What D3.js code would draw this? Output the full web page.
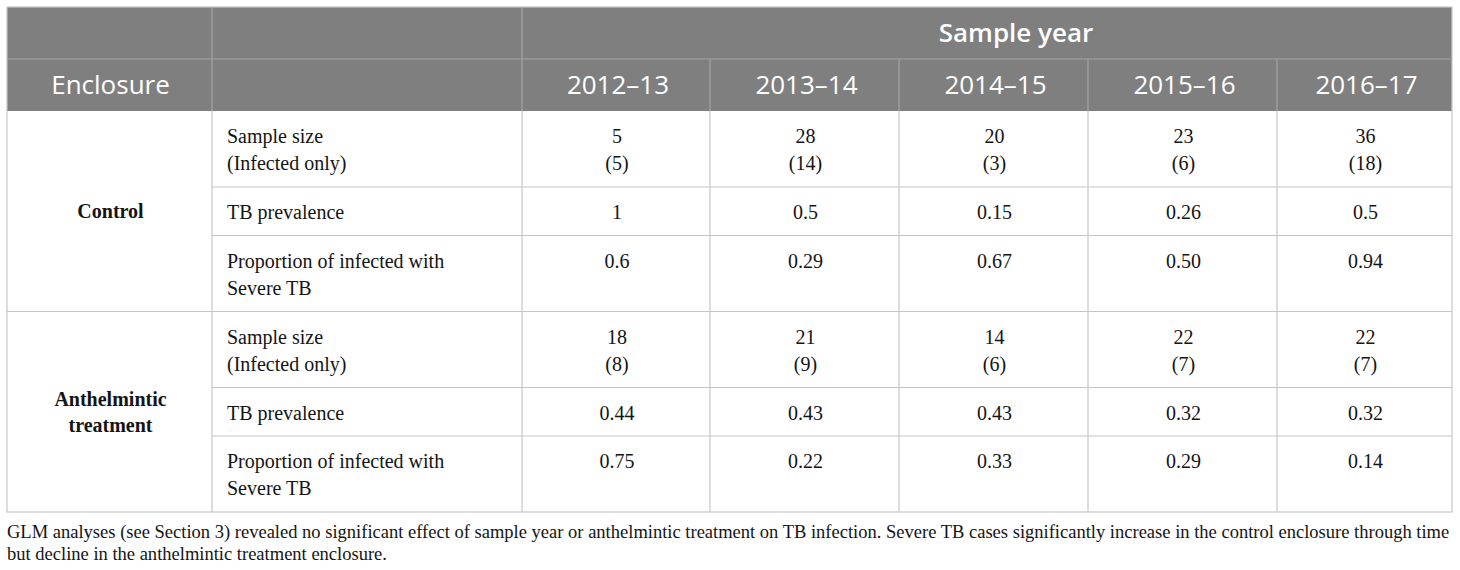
<!DOCTYPE html>
<html>
<head>
<meta charset="utf-8">
<script src="https://cdn.jsdelivr.net/npm/d3@7"></script>
<style>
  html, body { margin: 0; padding: 0; background: #ffffff; }
  svg { display: block; }
</style>
</head>
<body>
<svg id="chart" width="1460" height="570"></svg>
<script>
// ---------- data ----------
const years = ["2012–13", "2013–14", "2014–15", "2015–16", "2016–17"];
const spanHeader = "Sample year";
const firstHeader = "Enclosure";
const enclosures = [["Control"], ["Anthelmintic", "treatment"]];
const measures = [["Sample size", "(Infected only)"], ["TB prevalence"], ["Proportion of infected with", "Severe TB"]];

const controlSampleSize = [5, 28, 20, 23, 36];
const controlInfected   = [5, 14, 3, 6, 18];
const controlPrevalence = ["1", "0.5", "0.15", "0.26", "0.5"];
const controlSevere     = ["0.6", "0.29", "0.67", "0.50", "0.94"];

const anthSampleSize = [18, 21, 14, 22, 22];
const anthInfected   = [8, 9, 6, 7, 7];
const anthPrevalence = ["0.44", "0.43", "0.43", "0.32", "0.32"];
const anthSevere     = ["0.75", "0.22", "0.33", "0.29", "0.14"];

const footnote = [
  "GLM analyses (see Section 3) revealed no significant effect of sample year or anthelmintic treatment on TB infection. Severe TB cases significantly increase in the control enclosure through time",
  "but decline in the anthelmintic treatment enclosure."
];

// ---------- build table model ----------
const groups = [
  { name: enclosures[0], rows: [
      years.map((y, i) => [String(controlSampleSize[i]), "(" + controlInfected[i] + ")"]),
      years.map((y, i) => [controlPrevalence[i]]),
      years.map((y, i) => [controlSevere[i]])
  ]},
  { name: enclosures[1], rows: [
      years.map((y, i) => [String(anthSampleSize[i]), "(" + anthInfected[i] + ")"]),
      years.map((y, i) => [anthPrevalence[i]]),
      years.map((y, i) => [anthSevere[i]])
  ]}
];

// ---------- layout ----------
const L = 7, R = 1452, T = 7;
const encRight = 212, measRight = 522;
const headRow1 = 52, headRow2 = 52;
const rowHeights = [76, 48.5, 76];
const lineH = 27;
const firstBase = 32;

const yearEdges = [measRight, 710, 899, 1088, 1277, R];
const xYear = d3.scaleOrdinal().domain(years).range(years.map((y, i) => (yearEdges[i] + yearEdges[i + 1]) / 2 + 1));

const headerBottom = T + headRow1 + headRow2;
const groupH = d3.sum(rowHeights);
const yGroup = d3.scaleLinear().domain([0, 1]).range([headerBottom, headerBottom + groupH]);

const svg = d3.select("#chart");
const serif = "'Liberation Serif', 'Times New Roman', serif";
const sans = "'Open Sans', 'Noto Sans', sans-serif";
const gridColor = "#c6c6c6";
const headColor = "#7f7f7f";
const headLine = "#a3a3a3";
const textColor = "#141414";

// header background
svg.append("rect").attr("x", L).attr("y", T).attr("width", R - L).attr("height", headRow1 + headRow2).attr("fill", headColor);

// body grid lines
const gLines = svg.append("g").attr("stroke", gridColor).attr("stroke-width", 1.2).attr("fill", "none");
const tableBottom = yGroup(groups.length);

groups.forEach((g, gi) => {
  const y0 = yGroup(gi);
  let acc = y0;
  rowHeights.forEach((h, ri) => {
    if (ri > 0) gLines.append("line").attr("x1", encRight).attr("x2", R).attr("y1", acc).attr("y2", acc);
    acc += h;
  });
  if (gi > 0) gLines.append("line").attr("x1", L).attr("x2", R).attr("y1", y0).attr("y2", y0);
});
[encRight].concat(yearEdges.slice(0, -1)).forEach(x => {
  gLines.append("line").attr("x1", x).attr("x2", x).attr("y1", headerBottom).attr("y2", tableBottom);
});
gLines.append("rect").attr("x", L).attr("y", T).attr("width", R - L).attr("height", tableBottom - T);

// header lines
const hLines = svg.append("g").attr("stroke", headLine).attr("stroke-width", 1.2);
hLines.append("line").attr("x1", L).attr("x2", R).attr("y1", T + headRow1).attr("y2", T + headRow1);
[encRight, measRight].forEach(x => hLines.append("line").attr("x1", x).attr("x2", x).attr("y1", T).attr("y2", headerBottom));
yearEdges.slice(1, -1).forEach(x => hLines.append("line").attr("x1", x).attr("x2", x).attr("y1", T + headRow1).attr("y2", headerBottom));

// header text
const hText = svg.append("g").attr("fill", "#ffffff").attr("font-family", sans).attr("text-anchor", "middle");
hText.append("text").attr("x", 1016).attr("y", 41.5).attr("font-size", 26).attr("font-weight", 600).text(spanHeader);
hText.append("text").attr("x", (L + encRight) / 2 + 1).attr("y", 94).attr("font-size", 26).attr("font-weight", 500).text(firstHeader);
hText.selectAll("text.yr").data(years).join("text").attr("class", "yr")
  .attr("x", d => xYear(d) + 1).attr("y", 94).attr("font-size", 26).attr("font-weight", 500).text(d => d);

// body text
const body = svg.append("g").attr("fill", textColor).attr("font-family", serif).attr("font-size", 20);
groups.forEach((g, gi) => {
  const y0 = yGroup(gi);
  const mid = (yGroup(gi) + yGroup(gi + 1)) / 2;
  const n = g.name.length;
  const encT = body.append("text").attr("text-anchor", "middle").attr("font-weight", 700);
  g.name.forEach((ln, li) => {
    encT.append("tspan").attr("x", (L + encRight) / 2 + 1)
      .attr("y", mid + 7 + (li - (n - 1) / 2) * 25.5).text(ln);
  });
  let acc = y0;
  g.rows.forEach((cells, ri) => {
    const mt = body.append("text").attr("text-anchor", "start");
    measures[ri].forEach((ln, li) => mt.append("tspan").attr("x", encRight + 15).attr("y", acc + firstBase + li * lineH).text(ln));
    cells.forEach((lines, ci) => {
      const t = body.append("text").attr("text-anchor", "middle");
      lines.forEach((ln, li) => t.append("tspan").attr("x", xYear(years[ci])).attr("y", acc + firstBase + li * lineH).text(ln));
    });
    acc += rowHeights[ri];
  });
});

// footnote
const fn = svg.append("g").attr("fill", textColor).attr("font-family", serif);
const fnSize = 17;
const lines = fn.selectAll("text").data(footnote).join("text")
  .attr("x", L).attr("y", (d, i) => 538 + i * 21.5).attr("font-size", fnSize).text(d => d);
const w0 = lines.nodes()[0].getComputedTextLength();
const target = R - L - 2;
const scaledSize = fnSize * target / w0;
lines.attr("font-size", scaledSize);
</script>
</body>
</html>
